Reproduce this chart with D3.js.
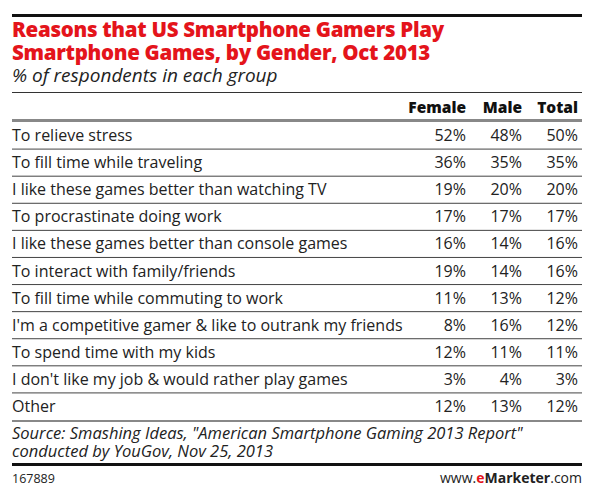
<!DOCTYPE html><html><head><meta charset="utf-8"><script src="https://cdn.jsdelivr.net/npm/d3@7"></script>
<style>body{margin:0;background:#fff}text{font-family:"Open Sans",sans-serif}</style></head><body><svg id="c" width="595" height="494"></svg>
<script>
const categories=["To relieve stress","To fill time while traveling","I like these games better than watching TV","To procrastinate doing work","I like these games better than console games","To interact with family/friends","To fill time while commuting to work","I'm a competitive gamer & like to outrank my friends","To spend time with my kids","I don't like my job & would rather play games","Other"];
const female=[52,36,19,17,16,19,11,8,12,3,12];
const male=[48,35,20,17,14,14,13,16,11,4,13];
const total=[50,35,20,17,16,16,12,12,11,3,12];
const columns=["Female","Male","Total"];
const svg=d3.select("#c");
const L=12,R=582;
svg.append("rect").attr("x",L).attr("y",14).attr("width",R-L).attr("height",3).attr("fill","#111");
svg.append("text").attr("x",L).attr("y",37).attr("fill","#e4141b").attr("font-size",20.5).attr("font-weight",800).attr("letter-spacing",-0.3).text("Reasons that US Smartphone Gamers Play");
svg.append("text").attr("x",L).attr("y",60).attr("fill","#e4141b").attr("font-size",20.5).attr("font-weight",800).attr("letter-spacing",-0.3).text("Smartphone Games, by Gender, Oct 2013");
svg.append("text").attr("x",L).attr("y",82).attr("fill","#222").attr("font-size",19).attr("font-style","italic").text("% of respondents in each group");
svg.append("rect").attr("x",L).attr("y",92).attr("width",R-L).attr("height",1).attr("fill","#333");
const colX=d3.scalePoint().domain(columns).range([466,578]);
colX.domain().forEach(c=>svg.append("text").attr("x",colX(c)).attr("y",113).attr("text-anchor","end").attr("font-size",15.5).attr("font-weight",800).attr("fill","#111").text(c));
svg.append("rect").attr("x",L).attr("y",119).attr("width",R-L).attr("height",3).attr("fill","#888");
const y=d3.scaleBand().domain(categories).range([122,420]);
const vals=[female,male,total];
categories.forEach((cat,i)=>{
  const cy=y(cat)+y.bandwidth()/2;
  svg.append("text").attr("x",L).attr("y",cy+5.5).attr("font-size",16).attr("fill","#222").text(cat);
  columns.forEach((c,j)=>svg.append("text").attr("x",colX(c)).attr("y",cy+5.5).attr("text-anchor","end").attr("font-size",16).attr("fill","#222").text(vals[j][i]+"%"));
  if(i<categories.length-1) svg.append("rect").attr("x",L).attr("y",y(cat)+y.bandwidth()-0.5).attr("width",R-L).attr("height",1).attr("fill","#444");
});
svg.append("rect").attr("x",L).attr("y",420).attr("width",R-L).attr("height",2).attr("fill","#888");
svg.append("text").attr("x",L).attr("y",439).attr("font-size",16.5).attr("font-style","italic").attr("fill","#222").text('Source: Smashing Ideas, "American Smartphone Gaming 2013 Report"');
svg.append("text").attr("x",L).attr("y",457).attr("font-size",16.5).attr("font-style","italic").attr("fill","#222").text("conducted by YouGov, Nov 25, 2013");
svg.append("rect").attr("x",L).attr("y",463).attr("width",R-L).attr("height",3).attr("fill","#111");
svg.append("text").attr("x",L).attr("y",483).attr("font-size",12.5).attr("fill","#222").text("167889");
const t=svg.append("text").attr("x",R).attr("y",483).attr("text-anchor","end").attr("font-size",14).attr("fill","#222");
t.append("tspan").text("www.");t.append("tspan").attr("fill","#e4141b").attr("font-weight",700).text("e");t.append("tspan").attr("font-weight",700).text("Marketer");t.append("tspan").text(".com");
</script></body></html>
